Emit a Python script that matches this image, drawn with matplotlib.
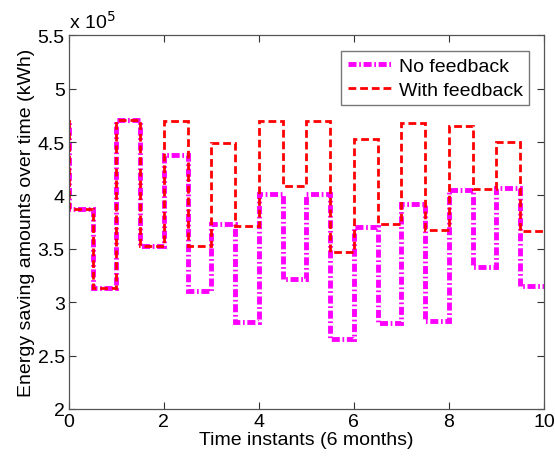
import numpy as np
import matplotlib
matplotlib.use("Agg")
import matplotlib.pyplot as plt
from matplotlib.ticker import FuncFormatter

plt.rcParams['font.family'] = ['Liberation Sans', 'DejaVu Sans']

# step edges: one step every 6 months (0.5), the first one starts before the axis
edges = np.arange(-0.5, 10.01, 0.5)

# energy saving per step, in units of 1e5 kWh
no_feedback = [4.70, 3.87, 3.13, 4.71, 3.53, 4.38, 3.10, 3.73, 2.81, 4.01, 3.22,
               4.01, 2.65, 3.70, 2.80, 3.92, 2.82, 4.05, 3.33, 4.07, 3.15]
with_feedback = [4.70, 3.87, 3.13, 4.71, 3.53, 4.70, 3.53, 4.49, 3.71, 4.70, 4.09,
                 4.70, 3.47, 4.53, 3.73, 4.68, 3.68, 4.65, 4.06, 4.50, 3.67]

no_feedback = np.array(no_feedback) * 1e5
with_feedback = np.array(with_feedback) * 1e5

fig = plt.figure(figsize=(5.55, 4.60), dpi=100)
ax = fig.add_axes([0.124, 0.109, 0.856, 0.812])

ax.stairs(no_feedback, edges, baseline=None, color='#ff00ff', lw=3.5,
          linestyle=(0, (1.65, 0.55, 0.35, 0.55)), label='No feedback')
ax.stairs(with_feedback, edges, baseline=None, color='#ff0000', lw=2.0,
          linestyle=(0, (2.8, 1.4)), label='With feedback')

ax.set_xlim(0, 10)
ax.set_ylim(2e5, 5.5e5)
ax.set_xticks(np.arange(0, 10.1, 2))
ax.set_yticks(np.arange(2e5, 5.51e5, 0.5e5))
ax.yaxis.set_major_formatter(FuncFormatter(lambda v, p: '%g' % (v / 1e5)))

ax.tick_params(direction='in', top=True, right=True, length=5, width=0.8,
               labelsize=14, colors='#333333', labelcolor='black', pad=3)
for s in ax.spines.values():
    s.set_color('#555555')
    s.set_linewidth(0.9)

ax.text(0.0, 1.01, r'x 10$^5$', transform=ax.transAxes, fontsize=14,
        ha='left', va='bottom')

ax.set_xlabel('Time instants (6 months)', fontsize=14, labelpad=1)
ax.set_ylabel('Energy saving amounts over time (kWh)', fontsize=14, labelpad=2)

leg = ax.legend(loc='upper right', fontsize=14, frameon=True, fancybox=False,
                handlelength=2.2, handletextpad=0.4, borderpad=0.35,
                labelspacing=0.3, bbox_to_anchor=(0.99, 0.985))
leg.get_frame().set_edgecolor('#555555')
leg.get_frame().set_linewidth(1.0)

fig.savefig('out.png', dpi=100)
